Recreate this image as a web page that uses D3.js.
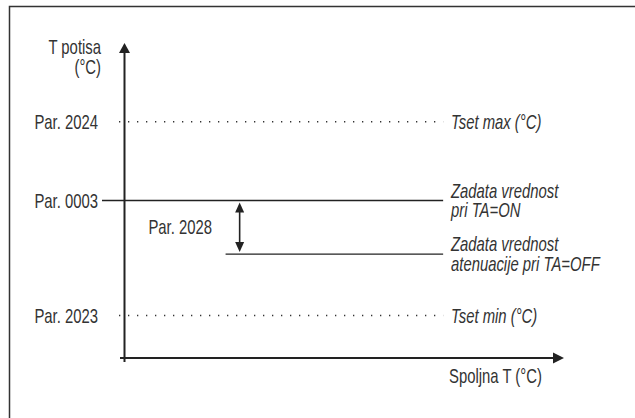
<!DOCTYPE html>
<html>
<head>
<meta charset="utf-8">
<script src="https://cdn.jsdelivr.net/npm/d3@7"></script>
<style>
  body { margin: 0; background: #fff; }
  svg text { font-family: "Liberation Sans", Arial, sans-serif; font-size: 20.5px; fill: #333; }
</style>
</head>
<body>
<svg id="chart" width="635" height="418"></svg>
<script>
// levels on the T potisa axis (arbitrary units 0..10)
const levelNames = ["Par. 2024", "Par. 0003", "Par. 2023"];
const levelValues = [7.5, 5, 1.35];
const levelStyles = ["dotted", "solid", "dotted"];
const levelNotes = [["Tset max (°C)"], ["Zadata vrednost", "pri TA=ON"], ["Tset min (°C)"]];

// attenuated setpoint (TA=OFF)
const attenValue = 3.3;
const attenNote = ["Zadata vrednost", "atenuacije pri TA=OFF"];
const attenName = "Par. 2028";
const attenStart = 2.3;
const arrowAt = 2.62;
const lineEnd = 7.25;

const yTitle = ["T potisa", "(°C)"];
const xTitle = "Spoljna T (°C)";

const svg = d3.select("#chart");
const sx = 0.725; // condensed look

const x = d3.scaleLinear().domain([0, 10]).range([124.5, 564]);
const y = d3.scaleLinear().domain([0, 10]).range([358, 43]);

// frame (open to the right / bottom like the source)
svg.append("rect")
  .attr("x", 9.5).attr("y", 6.5)
  .attr("width", 700).attr("height", 500)
  .attr("fill", "none").attr("stroke", "#333").attr("stroke-width", 1.5);

// one text element, several lines as tspans
function label(lines, px, py, anchor, italic, gap) {
  const t = svg.append("text")
    .attr("transform", `translate(${px},${py}) scale(${sx},1)`)
    .attr("text-anchor", anchor)
    .style("font-style", italic ? "italic" : "normal");
  [].concat(lines).forEach((s, j) => {
    t.append("tspan").attr("x", 0).attr("dy", j === 0 ? 0 : gap || 19.5).text(s);
  });
}

// level lines
levelValues.forEach((v, i) => {
  const yy = y(v);
  const dotted = levelStyles[i] === "dotted";
  svg.append("line")
    .attr("x1", dotted ? x(0) - 5.5 : 102).attr("x2", x(lineEnd))
    .attr("y1", yy).attr("y2", yy)
    .attr("stroke", dotted ? "#333" : "#222")
    .attr("stroke-width", dotted ? 1.3 : 1.3)
    .attr("stroke-dasharray", dotted ? "1.3,7.7" : null);
  label(levelNames[i], 98, yy + 7.5, "end", false);
  const notes = levelNotes[i];
  const top = notes.length === 1 ? yy + 7.5 : yy - 3;
  label(notes, 451, top, "start", true, 19.5);
});

// attenuated line
const ya = y(attenValue);
svg.append("line")
  .attr("x1", x(attenStart)).attr("x2", x(lineEnd))
  .attr("y1", ya).attr("y2", ya)
  .attr("stroke", "#222").attr("stroke-width", 1.3);
label(attenNote, 451, ya - 3, "start", true, 20);

// double arrow between setpoints
const xa = x(arrowAt);
const y0 = y(levelValues[1]) + 2, y1 = ya - 2;
svg.append("line")
  .attr("x1", xa).attr("x2", xa)
  .attr("y1", y0 + 8).attr("y2", y1 - 8)
  .attr("stroke", "#222").attr("stroke-width", 1.6);
svg.append("path")
  .attr("d", `M${xa},${y0} L${xa - 4.5},${y0 + 10} L${xa + 4.5},${y0 + 10} Z`)
  .attr("fill", "#222");
svg.append("path")
  .attr("d", `M${xa},${y1} L${xa - 4.5},${y1 - 10} L${xa + 4.5},${y1 - 10} Z`)
  .attr("fill", "#222");
label(attenName, 212, (y(levelValues[1]) + ya) / 2 + 7, "end", false);

// axes
svg.append("line")
  .attr("x1", x(0)).attr("x2", x(0))
  .attr("y1", y(0) + 4).attr("y2", y(10) + 8)
  .attr("stroke", "#222").attr("stroke-width", 2);
svg.append("path")
  .attr("d", `M${x(0)},${y(10)} L${x(0) - 5.5},${y(10) + 10} L${x(0) + 5.5},${y(10) + 10} Z`)
  .attr("fill", "#222");
svg.append("line")
  .attr("x1", x(0) - 4.5).attr("x2", x(10) - 8)
  .attr("y1", y(0)).attr("y2", y(0))
  .attr("stroke", "#222").attr("stroke-width", 2);
svg.append("path")
  .attr("d", `M${x(10)},${y(0)} L${x(10) - 11},${y(0) - 5.5} L${x(10) - 11},${y(0) + 5.5} Z`)
  .attr("fill", "#222");

// axis titles
label(yTitle, 101, 54, "end", false, 20);
label(xTitle, 449, 383, "start", false);
</script>
</body>
</html>
